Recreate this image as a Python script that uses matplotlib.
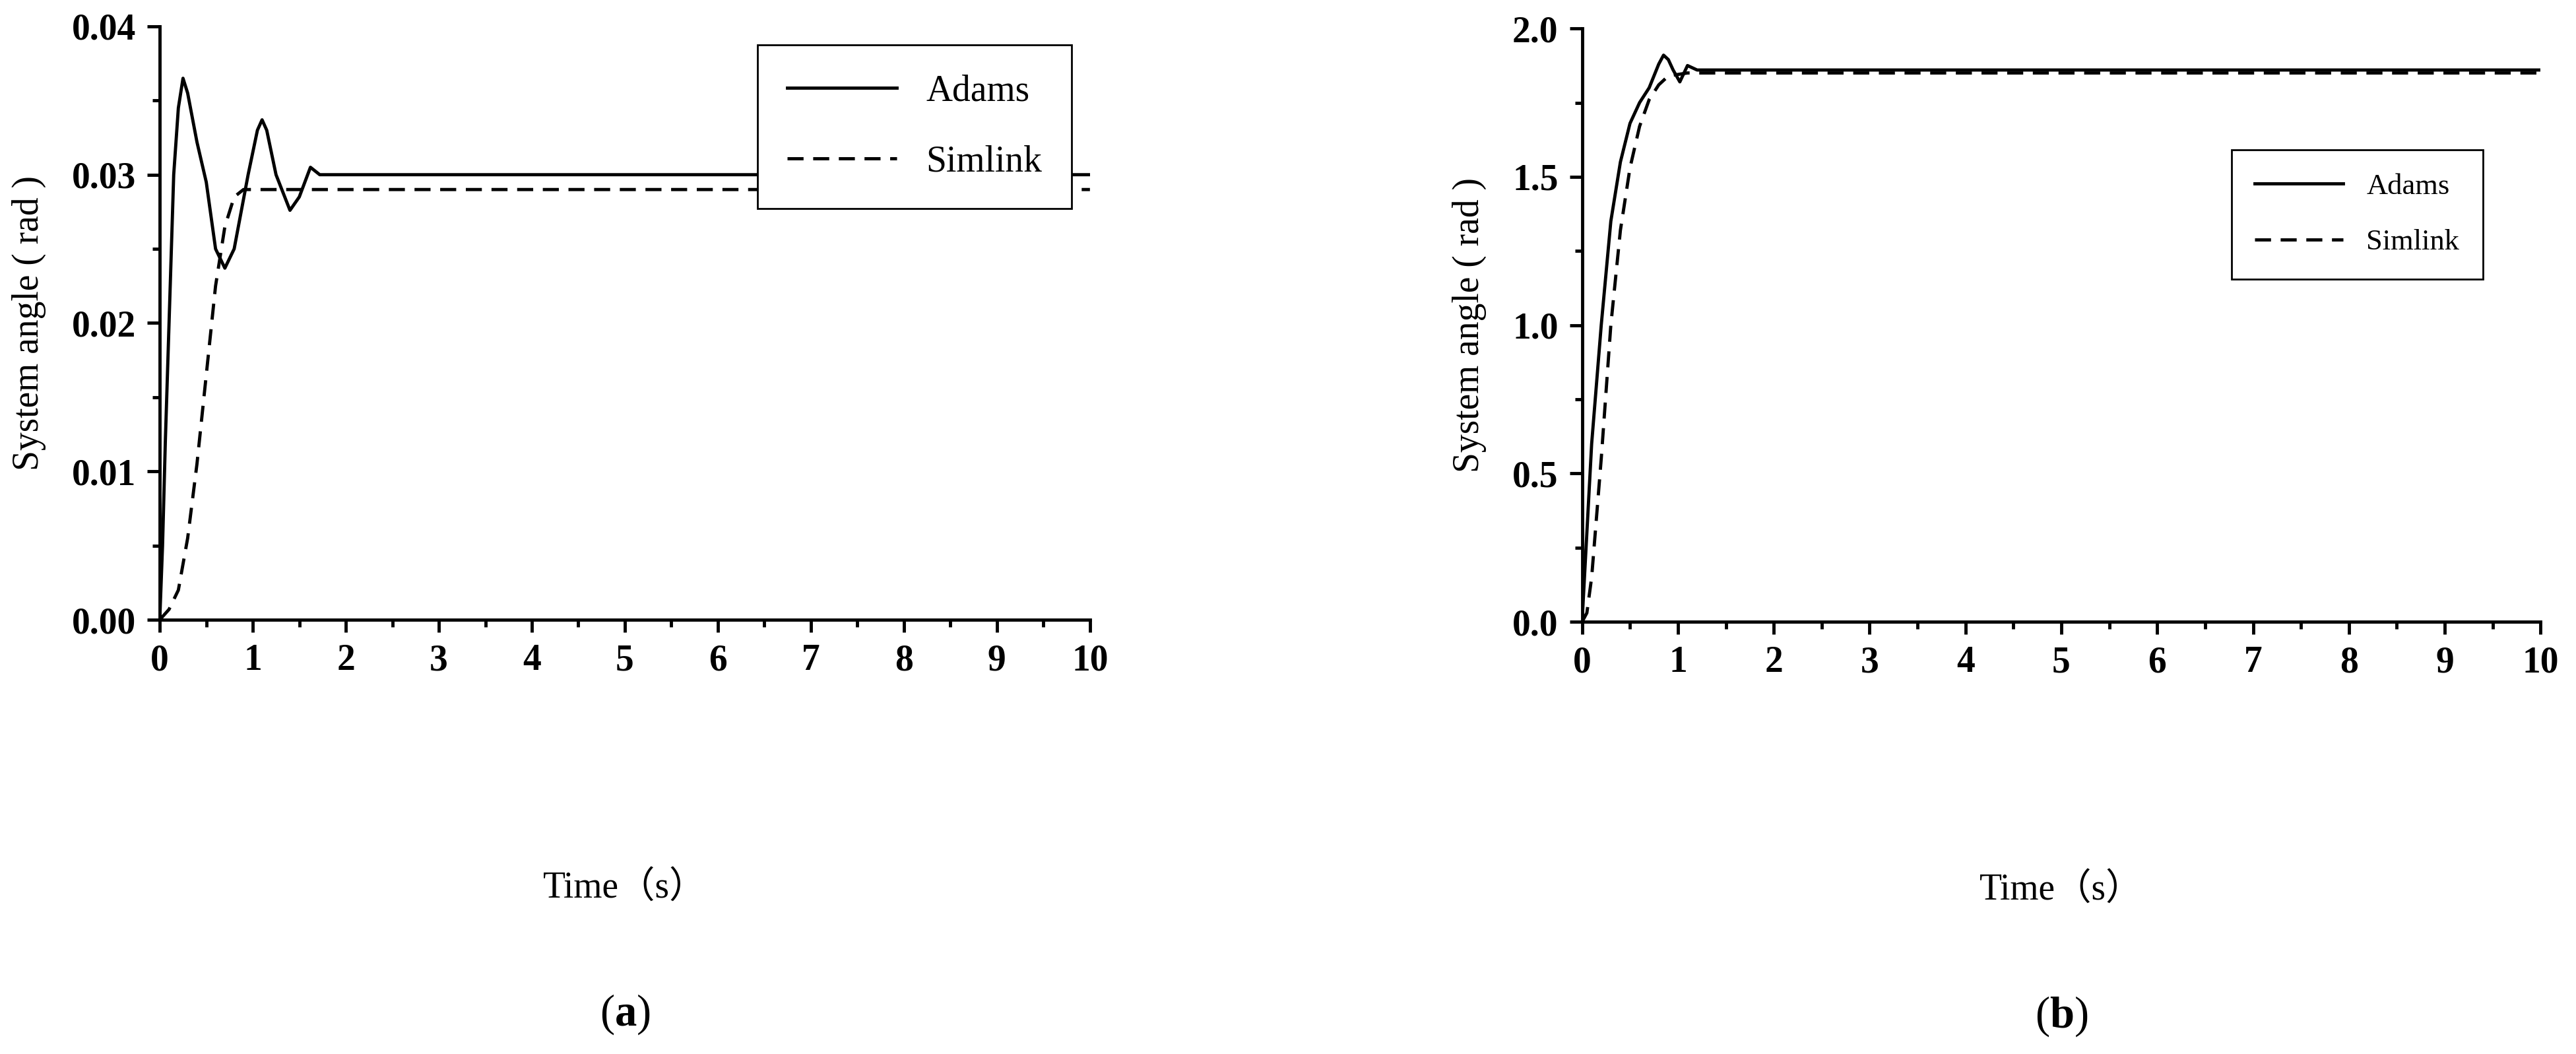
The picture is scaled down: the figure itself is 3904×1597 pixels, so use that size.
import numpy as np
import matplotlib.pyplot as plt

# Panel (a) data
ta_adams = [0, 0.03, 0.06, 0.1, 0.15, 0.2, 0.25, 0.3, 0.4, 0.5, 0.6, 0.7, 0.8, 0.95, 1.05, 1.1, 1.15, 1.25, 1.4, 1.5, 1.62, 1.72, 10]
ya_adams = [0, 0.005, 0.012, 0.02, 0.03, 0.0345, 0.0365, 0.0355, 0.0322, 0.0295, 0.025, 0.0237, 0.025, 0.030, 0.0330, 0.0337, 0.0330, 0.030, 0.0276, 0.0285, 0.0305, 0.0300, 0.0300]
ta_sim = [0, 0.1, 0.2, 0.3, 0.4, 0.5, 0.6, 0.7, 0.8, 0.9, 10]
ya_sim = [0, 0.0007, 0.002, 0.0055, 0.0105, 0.0165, 0.0225, 0.0265, 0.0285, 0.029, 0.029]

# Panel (b) data
tb_adams = [0, 0.05, 0.1, 0.2, 0.3, 0.4, 0.5, 0.6, 0.7, 0.8, 0.85, 0.9, 0.95, 1.02, 1.1, 1.2, 10]
yb_adams = [0, 0.3, 0.6, 1.0, 1.35, 1.55, 1.68, 1.75, 1.80, 1.88, 1.91, 1.895, 1.86, 1.82, 1.875, 1.86, 1.86]
tb_sim = [0, 0.05, 0.1, 0.2, 0.3, 0.4, 0.5, 0.6, 0.7, 0.8, 0.9, 1.1, 10]
yb_sim = [0, 0.03, 0.15, 0.55, 1.0, 1.32, 1.53, 1.67, 1.76, 1.81, 1.84, 1.85, 1.85]

serif = ['Liberation Serif', 'Noto Sans CJK SC']
plt.rcParams['font.family'] = serif
plt.rcParams['mathtext.fontset'] = 'custom'
plt.rcParams['mathtext.bf'] = 'Liberation Serif:bold'
plt.rcParams['mathtext.rm'] = 'Liberation Serif'

fig = plt.figure(figsize=(39.05, 15.97), dpi=100)
ax1 = fig.add_axes([0.062, 0.412, 0.361, 0.563])
ax2 = fig.add_axes([0.614, 0.410, 0.372, 0.563])

panels = [
    (ax1, ta_adams, ya_adams, ta_sim, ya_sim, (0, 0.04), np.arange(0, 0.041, 0.01), '%.2f', 'a', (1.0, 1.0), 40),
    (ax2, tb_adams, yb_adams, tb_sim, yb_sim, (0, 2.0), np.arange(0, 2.01, 0.5), '%.1f', 'b', (0.955, 0.82), 32),
]
for ax, t1, y1, t2, y2, ylim, yt, fmt, cap, lpos, lfs in panels:
    ax.plot(t1, y1, color='black', lw=3.5, label='Adams')
    ax.plot(t2, y2, color='black', lw=3.5, ls=(0, (5, 3)), label='Simlink')
    ax.set_xlim(0, 10)
    ax.set_ylim(*ylim)
    ax.set_xticks(range(11))
    ax.set_xticks(np.arange(0.5, 10, 1), minor=True)
    ax.set_yticks(yt)
    ax.set_yticks(yt[:-1] + (yt[1] - yt[0]) / 2, minor=True)
    ax.set_yticklabels([fmt % v for v in yt])
    for s in ['top', 'right']:
        ax.spines[s].set_visible(False)
    for s in ['left', 'bottom']:
        ax.spines[s].set_linewidth(3.5)
    ax.tick_params(which='major', length=14, width=3.5, labelsize=40, pad=12)
    ax.tick_params(which='minor', length=8, width=3.5)
    for lbl in ax.get_xticklabels() + ax.get_yticklabels():
        lbl.set_fontweight('bold')
    ax.set_xlabel('Time（s）', fontsize=40, labelpad=210)
    ax.set_ylabel('System angle ( rad )', fontsize=40, labelpad=28)
    leg = ax.legend(loc='upper right', bbox_to_anchor=lpos, fontsize=lfs,
                    frameon=True, fancybox=False, edgecolor='black', framealpha=1,
                    handlelength=3, borderpad=0.8, labelspacing=1.0)
    leg.get_frame().set_linewidth(2)
    ax.text(0.5, -0.665, r'($\mathbf{%s}$)' % cap, transform=ax.transAxes,
            ha='center', va='center', fontsize=48)

fig.savefig('out.png', dpi=100)
